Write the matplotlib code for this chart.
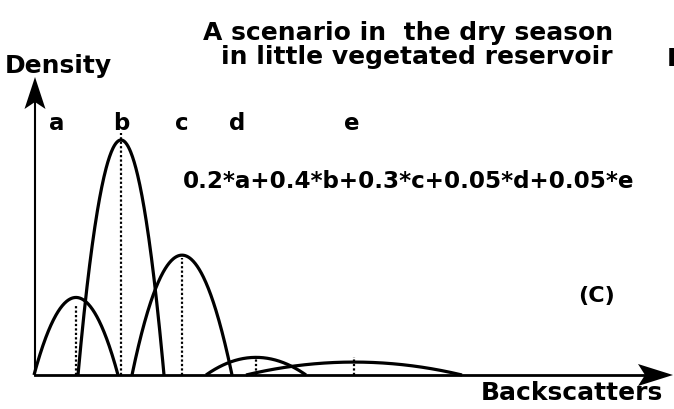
import numpy as np
import matplotlib
matplotlib.use("Agg")
import matplotlib.pyplot as plt
from matplotlib.patches import Polygon

plt.rcParams['font.family'] = ['DejaVu Sans']

# Component distributions of backscatter values
labels = ['a', 'b', 'c', 'd', 'e']
weights = ['0.2', '0.4', '0.3', '0.05', '0.05']
centers = [41, 86, 147, 221, 319]        # backscatter at peak
half_widths = [42, 43, 50, 50, 108]      # half of support width
peaks = [0.33, 1.0, 0.51, 0.075, 0.055]  # peak density
marker_tops = [0.295, 1.03, 0.50, 0.075, 0.075]
label_x = [22, 86, 147, 202, 317]

W, H = 674, 409
fig = plt.figure(figsize=(W / 100, H / 100), dpi=100)

# pixel-space layer for axes arrows and text
deco = fig.add_axes([0, 0, 1, 1])
deco.set_xlim(0, W)
deco.set_ylim(H, 0)
deco.axis('off')

# data layer for the curves
ax = fig.add_axes([0, 0, 1, 1])
ax.set_xlim(-35, W - 35)
ax.set_ylim(-34 / 235, (H - 34) / 235)
ax.axis('off')
ax.patch.set_alpha(0)

for c, hw, p, top in zip(centers, half_widths, peaks, marker_tops):
    x = np.linspace(c - hw, c + hw, 200)
    y = p * (1 - ((x - c) / hw) ** 2)
    ax.plot(x, y, color='black', lw=2.3, solid_capstyle='butt')
    ax.plot([c, c], [0, top], color='black', lw=1.6, ls=(0, (1, 1)))

# axes with notched arrowheads
ox, oy = 35, 375
deco.plot([ox, ox], [oy, 100], color='black', lw=1.5)
deco.plot([ox, 650], [oy, oy], color='black', lw=2)
deco.add_patch(Polygon([(ox, 77), (ox + 10.5, 109), (ox, 102), (ox - 10.5, 109)],
                       closed=True, color='black', lw=0))
deco.add_patch(Polygon([(673, oy), (638, oy - 11), (645, oy), (638, oy + 11)],
                       closed=True, color='black', lw=0))

bold = dict(fontweight='bold', color='black')
deco.text(613, 33, 'A scenario in  the dry season', ha='right', va='center',
          fontsize=18, **bold)
deco.text(613, 57, 'in little vegetated reservoir', ha='right', va='center',
          fontsize=18, **bold)
deco.text(667, 59, 'D', ha='left', va='center', fontsize=18, **bold)
deco.text(5, 66, 'Density', ha='left', va='center', fontsize=18, **bold)
deco.text(663, 393, 'Backscatters', ha='right', va='center', fontsize=18, **bold)
deco.text(597, 296, '(C)', ha='center', va='center', fontsize=16, **bold)

for lab, lx in zip(labels, label_x):
    deco.text(lx + 35, 124, lab, ha='center', va='center', fontsize=16.5, **bold)

formula = '+'.join(w + '*' + l for w, l in zip(weights, labels))
deco.text(183, 182, formula, ha='left', va='center', fontsize=16.6, **bold)

fig.savefig('out.png', dpi=100)
